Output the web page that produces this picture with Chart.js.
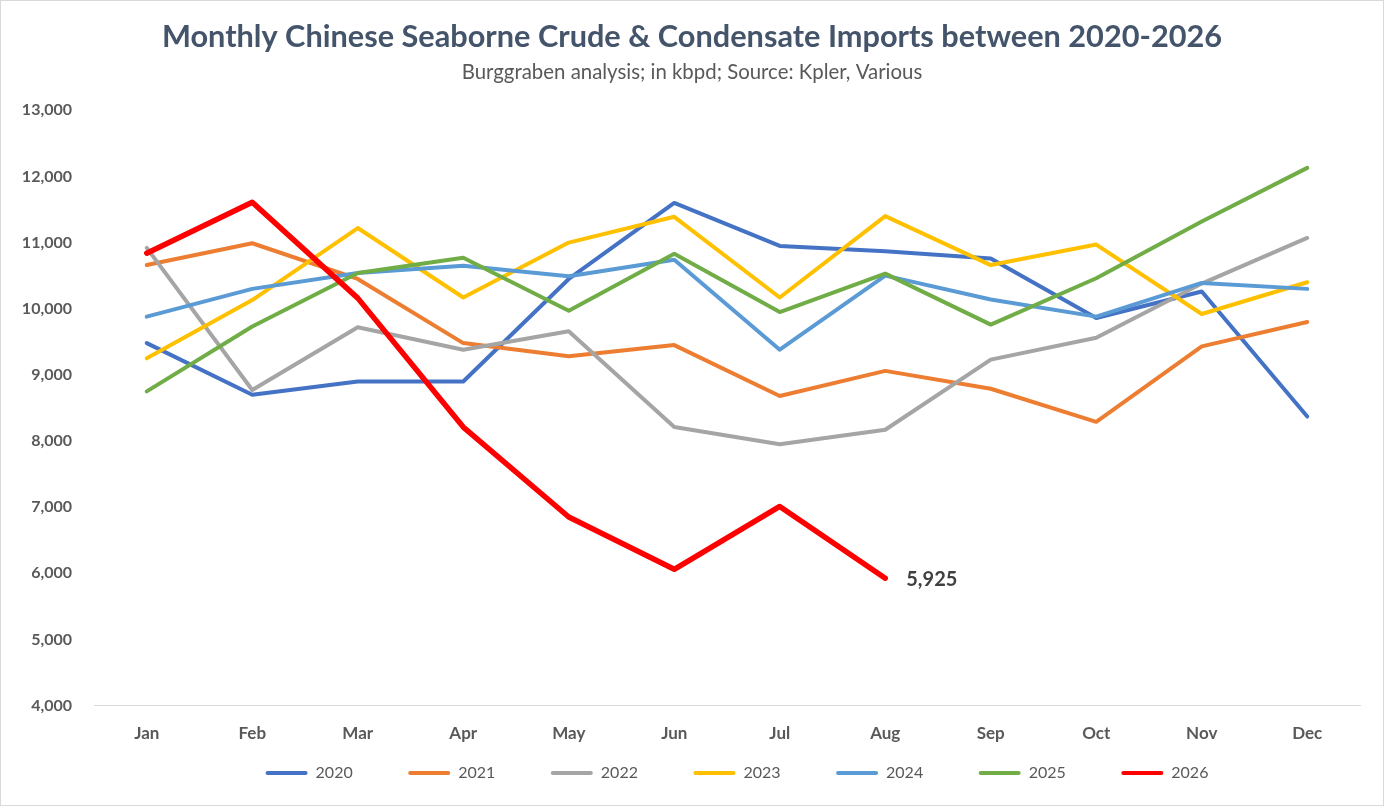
<!DOCTYPE html>
<html>
<head>
<meta charset="utf-8">
<script src="https://cdn.jsdelivr.net/npm/chart.js@4"></script>
<style>
  html, body { margin: 0; padding: 0; background: #fff; }
  #wrap { position: relative; width: 1384px; height: 806px; box-sizing: border-box; border: 1px solid #d9d9d9; }
  canvas { display: block; }
</style>
</head>
<body>
<div id="wrap"><canvas id="c"></canvas></div>
<script>
const months = ["Jan","Feb","Mar","Apr","May","Jun","Jul","Aug","Sep","Oct","Nov","Dec"];
const seriesNames = ["2020","2021","2022","2023","2024","2025","2026"];
const y2020 = [9480, 8700, 8900, 8900, 10450, 11600, 10950, 10870, 10760, 9860, 10260, 8370];
const y2021 = [10660, 10990, 10450, 9480, 9280, 9450, 8680, 9060, 8790, 8290, 9430, 9800];
const y2022 = [10920, 8770, 9720, 9380, 9660, 8210, 7950, 8170, 9230, 9560, 10380, 11070];
const y2023 = [9250, 10130, 11220, 10170, 11000, 11390, 10170, 11400, 10660, 10970, 9920, 10400];
const y2024 = [9880, 10300, 10540, 10650, 10490, 10740, 9380, 10500, 10140, 9880, 10390, 10300];
const y2025 = [8750, 9730, 10540, 10770, 9970, 10830, 9950, 10530, 9760, 10460, 11320, 12130];
const y2026 = [10840, 11610, 10160, 8210, 6850, 6060, 7010, 5925];
const yTicks = [4000, 5000, 6000, 7000, 8000, 9000, 10000, 11000, 12000, 13000];
const colors = ["#4472C4", "#ED7D31", "#A5A5A5", "#FFC000", "#5B9BD5", "#70AD47", "#FF0000"];
const widths = [4, 4, 4, 4, 4, 4, 5.5];
const allValues = [y2020, y2021, y2022, y2023, y2024, y2025, y2026];

const FONT = "Lato, 'Open Sans', sans-serif";

const datasets = seriesNames.map((name, i) => ({
  label: name,
  data: allValues[i],
  borderColor: colors[i],
  backgroundColor: colors[i],
  borderWidth: widths[i],
  pointRadius: 0,
  pointHoverRadius: 0,
  tension: 0,
  borderJoinStyle: 'round',
  borderCapStyle: 'round',
  order: seriesNames.length - i,
  yAxisID: 'y'
}));

const endLabel = {
  id: 'endLabel',
  afterDatasetsDraw(chart) {
    const idx = seriesNames.length - 1;
    const meta = chart.getDatasetMeta(idx);
    const pts = meta.data;
    const last = pts[pts.length - 1];
    const v = allValues[idx][allValues[idx].length - 1];
    const ctx = chart.ctx;
    ctx.save();
    ctx.font = "bold 20px " + FONT;
    ctx.fillStyle = "#404040";
    ctx.textAlign = "left";
    ctx.textBaseline = "middle";
    ctx.fillText(v.toLocaleString('en-US'), last.x + 21, last.y + 1);
    ctx.restore();
  }
};

const legendShift = {
  id: 'legendShift',
  afterLayout(chart) {
    if (chart.legend) { chart.legend.left += 10; chart.legend.right += 10; }
  }
};

new Chart(document.getElementById('c'), {
  type: 'line',
  data: { labels: months, datasets },
  plugins: [endLabel, legendShift],
  options: {
    responsive: true,
    maintainAspectRatio: false,
    animation: false,
    layout: { padding: { top: 14, right: 0, bottom: 14, left: 0 } },
    plugins: {
      title: {
        display: true,
        text: "Monthly Chinese Seaborne Crude & Condensate Imports between 2020-2026",
        color: "#44546A",
        font: { family: FONT, size: 30.7, weight: 'bold' },
        padding: { top: 4, bottom: 4 }
      },
      subtitle: {
        display: true,
        text: "Burggraben analysis; in kbpd; Source: Kpler, Various",
        color: "#595959",
        font: { family: FONT, size: 20.4 },
        padding: { top: 0, bottom: 26 }
      },
      legend: {
        position: 'bottom',
        fullSize: false,
        labels: {
          color: "#595959",
          font: { family: FONT, size: 16 },
          boxWidth: 42,
          boxHeight: 4,
          padding: 55.5,
          useBorderRadius: true,
          borderRadius: 2,
          sort: (a, b) => a.datasetIndex - b.datasetIndex,
          generateLabels(chart) {
            const items = Chart.defaults.plugins.legend.labels.generateLabels(chart);
            return items.map(it => Object.assign(it, { lineWidth: 0, fillStyle: colors[it.datasetIndex], strokeStyle: colors[it.datasetIndex] }));
          }
        }
      },
      tooltip: { enabled: false }
    },
    scales: {
      x: {
        offset: true,
        afterFit(axis) {
          axis.height = 4;
          axis._computeLabelArea = function () { return undefined; };
        },
        grid: { display: false, drawTicks: false },
        border: { display: true, color: "#D9D9D9", width: 1 },
        ticks: { color: "#595959", font: { family: FONT, size: 17, weight: 'bold' }, padding: 18 }
      },
      y: {
        min: 4000,
        max: 13000,
        afterBuildTicks(axis) { axis.ticks = yTicks.map(v => ({ value: v })); },
        afterFit(axis) { axis.width = 93; },
        grid: { display: false, drawTicks: false },
        border: { display: false },
        ticks: {
          color: "#595959",
          font: { family: FONT, size: 16, weight: 'bold' },
          padding: 22,
          callback: v => v.toLocaleString('en-US')
        }
      },
      yR: {
        position: 'right',
        display: true,
        min: 4000,
        max: 13000,
        afterFit(axis) { axis.width = 23; },
        grid: { display: false, drawTicks: false },
        border: { display: false },
        ticks: { display: false }
      }
    }
  }
});
</script>
</body>
</html>
